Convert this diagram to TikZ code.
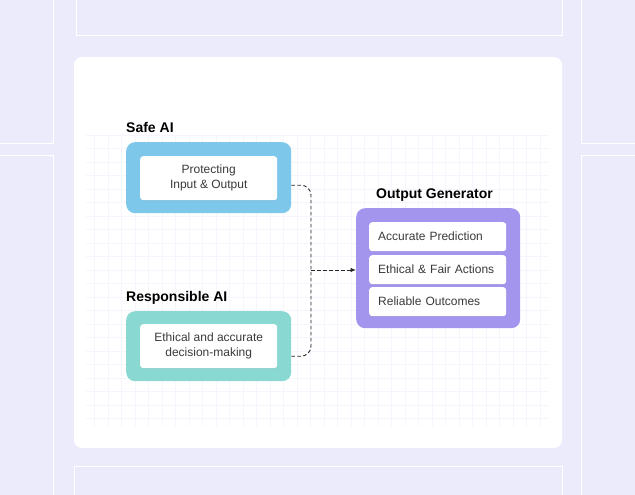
\documentclass[tikz,border=0pt]{standalone}
\usepackage{fontspec}
\setmainfont{Liberation Sans}
\usetikzlibrary{positioning,arrows.meta,shadows}

\definecolor{bgcol}{HTML}{ECEBFB}
\definecolor{gridcol}{HTML}{F6F5FD}
\definecolor{safecol}{HTML}{7DC7EA}
\definecolor{respcol}{HTML}{89D8D1}
\definecolor{gencol}{HTML}{A394EE}
\definecolor{txtcol}{HTML}{3A3A3A}

\begin{document}
\begin{tikzpicture}[x=1pt,y=-1pt,
  heading/.style={font=\bfseries\fontsize{14}{16}\selectfont, anchor=base west, inner sep=0pt},
  outerbox/.style={fill=#1, rounded corners=9pt, anchor=north west, inner sep=0pt},
  card/.style={fill=white, rounded corners=3pt, anchor=north west, inner sep=0pt,
    text=txtcol, font=\fontsize{12}{15}\selectfont,
    drop shadow={opacity=0.12, shadow xshift=0pt, shadow yshift=-1pt}},
  itembox/.style={card, minimum width=137pt, minimum height=29pt,
    text width=119pt, inner xsep=9pt, align=left},
  conn/.style={draw=black!85, line width=0.9pt, dash pattern=on 3.5pt off 2.5pt}]

  \clip (0,0) rectangle (635,495);
  \fill[bgcol] (0,0) rectangle (635,495);

  % side panels
  \draw[white, line width=1pt] (76,-5) rectangle (562,36);
  \draw[white, line width=1pt] (74,466) rectangle (562,505);
  \draw[white, line width=1pt] (-5,-5) rectangle (53,143);
  \draw[white, line width=1pt] (-5,155) rectangle (53,505);
  \draw[white, line width=1pt] (581,-5) rectangle (640,143);
  \draw[white, line width=1pt] (581,155) rectangle (640,505);

  % card
  \fill[white, rounded corners=8pt] (74,57) rectangle (562,448);
  \draw[step=13.5pt, gridcol, line width=0.6pt] (86,135) grid (549,426);

  % safe AI
  \node[heading] (safehead) at (126,132) {Safe AI};
  \node[outerbox=safecol, minimum width=165pt, minimum height=71pt] (safebox) at (126,142) {};
  \node[card, minimum width=137pt, minimum height=44pt, align=center] (safetext) at (140,156)
    {Protecting\\Input \& Output};

  % responsible AI
  \node[heading] (resphead) at (126,301) {Responsible AI};
  \node[outerbox=respcol, minimum width=165pt, minimum height=70pt] (respbox) at (126,311) {};
  \node[card, minimum width=137pt, minimum height=44pt, align=center] (resptext) at (140,324)
    {Ethical and accurate\\decision-making};

  % output generator
  \node[heading] (genhead) at (376,198) {Output Generator};
  \node[outerbox=gencol, minimum width=164pt, minimum height=120pt] (genbox) at (356,208) {};
  \node[itembox] (predict) at (369,222) {Accurate Prediction};
  \node[itembox] (fair) at (369,255) {Ethical \& Fair Actions};
  \node[itembox] (reliable) at (369,287) {Reliable Outcomes};

  % connectors
  \coordinate (bus) at (311,270);
  \draw[conn, rounded corners=10pt] ([yshift=-7.5pt]safebox.east) -| (bus) |- ([yshift=-10pt]respbox.east);
  \draw[conn, -{Latex[length=5.5pt,width=4.5pt]}] (bus) -- (bus -| genbox.west);

\end{tikzpicture}
\end{document}
